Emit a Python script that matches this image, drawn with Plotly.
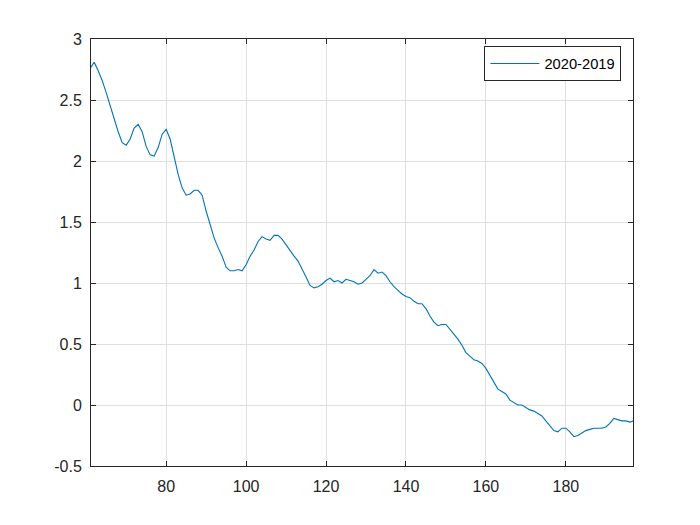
import plotly.graph_objects as go

# days 61..197, difference 2020-2019
days = list(range(61, 198))
diff_2020_2019 = [
    2.76, 2.81, 2.74, 2.66, 2.56, 2.45, 2.34, 2.24, 2.15, 2.13,
    2.18, 2.27, 2.30, 2.24, 2.12, 2.05, 2.04, 2.11, 2.22, 2.26,
    2.18, 2.03, 1.89, 1.78, 1.72, 1.73, 1.76, 1.76, 1.72, 1.59,
    1.47, 1.37, 1.29, 1.22, 1.13, 1.10, 1.10, 1.11, 1.10, 1.15,
    1.22, 1.27, 1.34, 1.38, 1.36, 1.35, 1.39, 1.39, 1.36, 1.31,
    1.27, 1.22, 1.18, 1.12, 1.05, 0.98, 0.96, 0.97, 0.99, 1.02,
    1.04, 1.01, 1.02, 1.00, 1.03, 1.02, 1.01, 0.99, 1.00, 1.03,
    1.06, 1.11, 1.08, 1.09, 1.06, 1.01, 0.97, 0.94, 0.91, 0.89,
    0.88, 0.85, 0.83, 0.83, 0.79, 0.73, 0.68, 0.65, 0.66, 0.66,
    0.62, 0.58, 0.54, 0.49, 0.43, 0.40, 0.37, 0.36, 0.34, 0.30,
    0.24, 0.18, 0.13, 0.11, 0.09, 0.04, 0.02, 0.00, 0.00, -0.02,
    -0.04, -0.05, -0.07, -0.09, -0.13, -0.17, -0.21, -0.22, -0.19, -0.19,
    -0.22, -0.26, -0.25, -0.23, -0.21, -0.20, -0.19, -0.19, -0.19, -0.18,
    -0.15, -0.11, -0.12, -0.13, -0.13, -0.14, -0.13,
]

x_ticks = [80, 100, 120, 140, 160, 180]
y_ticks = [-0.5, 0, 0.5, 1, 1.5, 2, 2.5, 3]
y_labels = ["-0.5", "0", "0.5", "1", "1.5", "2", "2.5", "3"]

axis_col = "#262626"
grid_col = "#dfdfdf"
font_fam = "Liberation Sans, Arial"

fig = go.Figure()
fig.add_trace(go.Scatter(x=days, y=diff_2020_2019, mode="lines", name="2020-2019",
                         line=dict(color="#0072BD", width=1.1)))

axis_common = dict(showline=True, linecolor=axis_col, linewidth=1, mirror="ticks",
                   ticks="inside", ticklen=5, tickcolor=axis_col,
                   showgrid=True, gridcolor=grid_col, gridwidth=1, zeroline=False,
                   tickfont=dict(family=font_fam, size=16, color=axis_col))

fig.update_xaxes(range=[61.2, 196.8], tickvals=x_ticks, ticklabelstandoff=6, **axis_common)
fig.update_yaxes(range=[-0.5, 3], tickvals=y_ticks, ticktext=y_labels,
                 ticklabelstandoff=5, **axis_common)

# page body has an 8px margin, so margins are shifted to land the axes where the reference has them
fig.update_layout(
    width=700, height=525,
    margin=dict(l=83, r=75, t=31, b=67),
    paper_bgcolor="white", plot_bgcolor="white",
    showlegend=True,
    legend=dict(x=0.9786, y=0.9415, xanchor="right", yanchor="middle",
                itemwidth=49,
                bordercolor=axis_col, borderwidth=1, bgcolor="white",
                font=dict(family=font_fam, size=14.7, color="black")),
)

fig.write_html("out.html")
